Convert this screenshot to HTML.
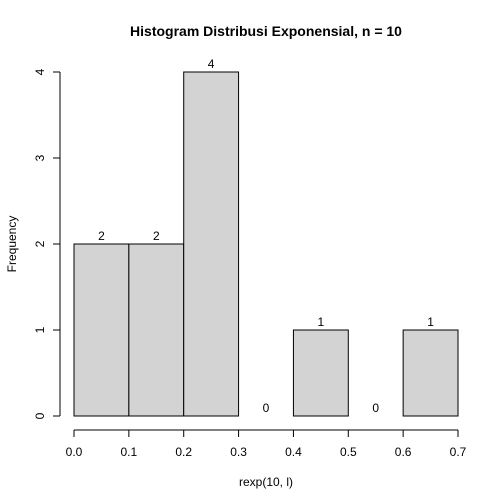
<!DOCTYPE html>
<html><head><meta charset="utf-8"><style>
body{margin:0;background:#fff}
svg{display:block;font-family:"Liberation Sans",Arial,sans-serif}
</style></head><body>
<svg id="chart" width="504" height="504" viewBox="0 0 504 504">
<rect width="504" height="504" fill="#fff"/>
<text x="266" y="36" text-anchor="middle" font-size="14" font-weight="bold">Histogram Distribusi Exponensial, n = 10</text>
<text x="266" y="486" text-anchor="middle" font-size="12">rexp(10, l)</text>
<text transform="translate(16,244) rotate(-90)" text-anchor="middle" font-size="12">Frequency</text>
<g id="bars"></g>
<g id="xaxis"></g>
<g id="yaxis"></g>
</svg>
<script>
const binEdges = [0,0.1,0.2,0.3,0.4,0.5,0.6,0.7];
const counts = [2,2,4,0,1,0,1];
const xTicks = [0,0.1,0.2,0.3,0.4,0.5,0.6,0.7];
const xTickLabels = ["0.0","0.1","0.2","0.3","0.4","0.5","0.6","0.7"];
const yTicks = [0,1,2,3,4];

const NS="http://www.w3.org/2000/svg";
function X(v){return 74+(v-0)/0.7*384;}
function Y(v){return 416-v*86;}
function mk(tag,attrs,parent){const e=document.createElementNS(NS,tag);for(const k in attrs)e.setAttribute(k,attrs[k]);parent.appendChild(e);return e;}
const bars=document.getElementById('bars');
counts.forEach((c,i)=>{
  const x0=X(binEdges[i]),x1=X(binEdges[i+1]);
  const r=mk('rect',{x:x0,y:Y(c),width:x1-x0,height:Y(0)-Y(c),fill:'#d3d3d3',stroke:'#000','stroke-width':1},bars);
  
  
  const t=mk('text',{x:(x0+x1)/2,y:Y(c)-4,'text-anchor':'middle','font-size':12},bars);
  t.textContent=c;
  
  
});
const xa=document.getElementById('xaxis');


mk('line',{x1:X(xTicks[0]),x2:X(xTicks[xTicks.length-1]),y1:430,y2:430,stroke:'#000'},xa);
xTicks.forEach((v,i)=>{
  mk('line',{x1:X(v),x2:X(v),y1:430,y2:437,stroke:'#000'},xa);
  const t=mk('text',{x:X(v),y:456,'text-anchor':'middle','font-size':12},xa);
  t.textContent=xTickLabels[i];
  
  
});
const ya=document.getElementById('yaxis');


mk('line',{x1:60,x2:60,y1:Y(yTicks[0]),y2:Y(yTicks[yTicks.length-1]),stroke:'#000'},ya);
yTicks.forEach(v=>{
  mk('line',{x1:53,x2:60,y1:Y(v),y2:Y(v),stroke:'#000'},ya);
  const t=mk('text',{transform:'translate(44,'+Y(v)+') rotate(-90)','text-anchor':'middle','font-size':12},ya);
  t.textContent=v;
  
  
});
</script>
</body></html>
